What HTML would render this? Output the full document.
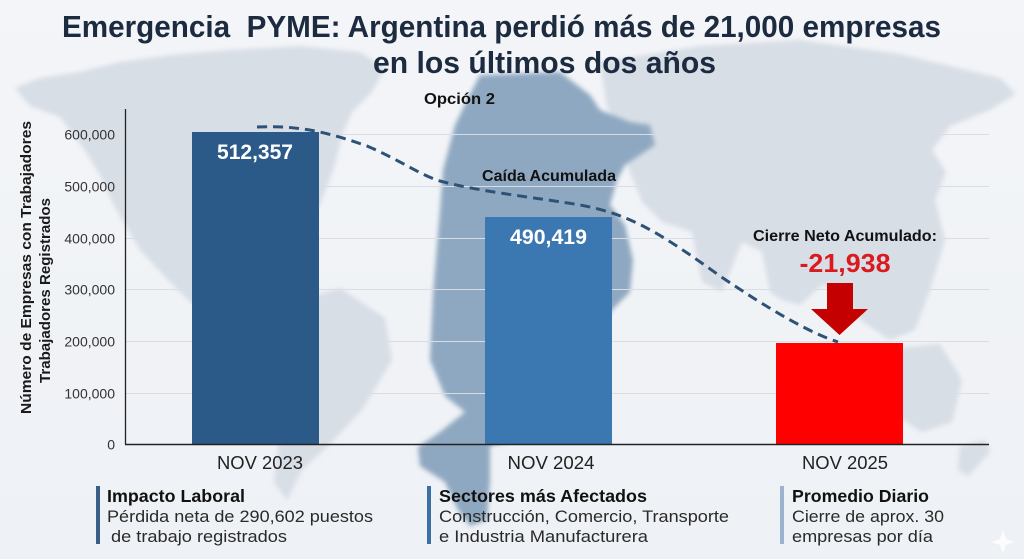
<!DOCTYPE html>
<html><head><meta charset="utf-8"><style>
html,body{margin:0;padding:0;background:#f1f4f7;}
svg{display:block;}
text{font-family:"Liberation Sans",sans-serif;}
</style></head><body>
<svg width="1024" height="559" viewBox="0 0 1024 559" xmlns="http://www.w3.org/2000/svg">
<defs>
<filter id="b" x="-10%" y="-10%" width="120%" height="120%"><feGaussianBlur stdDeviation="2.5"/></filter>
<linearGradient id="bg" x1="0" y1="0" x2="0" y2="1"><stop offset="0" stop-color="#f3f5f8"/><stop offset="1" stop-color="#eef1f5"/></linearGradient>
</defs>
<rect width="1024" height="559" fill="url(#bg)"/>
<g filter="url(#b)" fill="#d8dee6">
<path d="M15,88 L40,78 L80,72 L120,62 L170,55 L230,50 L300,46 L360,52 L385,68 L372,92 L352,112 L342,135 L335,165 L320,205 L300,240 L280,262 L245,292 L212,312 L190,302 L170,282 L140,250 L112,202 L100,175 L86,152 L60,117 L30,106 Z"/>
<path d="M300,300 L340,288 L385,318 L392,360 L362,410 L332,442 L302,470 L287,500 L274,482 L280,432 L300,382 L294,332 Z"/>
<path d="M600,62 L700,46 L800,40 L900,54 L1000,78 L1016,94 L990,110 L950,126 L932,150 L946,172 L935,200 L945,240 L930,290 L915,330 L890,340 L860,320 L842,290 L822,285 L800,305 L782,300 L770,292 L762,252 L742,242 L722,292 L702,282 L692,232 L662,222 L642,202 L622,152 L606,102 Z"/>
<path d="M880,350 L940,344 L962,380 L952,422 L922,432 L890,412 Z"/>
<path d="M960,446 L985,440 L990,452 L968,476 L958,470 Z"/>
</g>
<path filter="url(#b)" fill="#8fa8c1" d="M480,75 L560,72 L590,95 L600,110 L630,122 L650,125 L655,145 L625,165 L617,180 L610,205 L625,225 L633,260 L630,292 L612,310 L600,330 L595,420 L490,446 L490,480 L487,520 L470,526 L458,510 L445,482 L420,466 L418,447 L440,432 L465,412 L445,396 L430,360 L433,293 L440,210 L443,170 L455,125 L467,100 Z"/>

<!-- title -->
<text x="62" y="37" font-size="31" font-weight="bold" fill="#1c2b3f" textLength="879" lengthAdjust="spacingAndGlyphs" style="white-space:pre">Emergencia  PYME: Argentina perdió más de 21,000 empresas</text>
<text x="373" y="73" font-size="31" font-weight="bold" fill="#1c2b3f" textLength="343" lengthAdjust="spacingAndGlyphs">en los últimos dos años</text>
<text x="424" y="104" font-size="16" font-weight="bold" fill="#111" textLength="71" lengthAdjust="spacingAndGlyphs">Opción 2</text>

<!-- gridlines -->
<g stroke="#d9dee4" stroke-width="1">
<line x1="125" y1="134.5" x2="989" y2="134.5"/>
<line x1="125" y1="186.5" x2="989" y2="186.5"/>
<line x1="125" y1="238.5" x2="989" y2="238.5"/>
<line x1="125" y1="289.5" x2="989" y2="289.5"/>
<line x1="125" y1="341.5" x2="989" y2="341.5"/>
<line x1="125" y1="393.5" x2="989" y2="393.5"/>
</g>

<!-- y ticks -->
<g font-size="14" fill="#333" text-anchor="end">
<text x="115" y="139.5">600,000</text>
<text x="115" y="191.5">500,000</text>
<text x="115" y="243.5">400,000</text>
<text x="115" y="294.5">300,000</text>
<text x="115" y="346.5">200,000</text>
<text x="115" y="398.5">100,000</text>
<text x="115" y="449.5">0</text>
</g>

<!-- y axis title -->
<text transform="translate(31,267.5) rotate(-90)" text-anchor="middle" font-size="14.5" font-weight="bold" fill="#1a1a1a" textLength="293" lengthAdjust="spacingAndGlyphs">Número de Empresas con Trabajadores</text>
<text transform="translate(50,290.5) rotate(-90)" text-anchor="middle" font-size="14.5" font-weight="bold" fill="#1a1a1a" textLength="185" lengthAdjust="spacingAndGlyphs">Trabajadores Registrados</text>

<!-- bars -->
<rect x="192" y="132" width="127" height="312" fill="#2b5a89"/>
<rect x="485" y="217" width="127" height="227" fill="#3b77b0"/>
<rect x="776" y="343" width="127" height="101" fill="#fe0000"/>

<text x="255" y="159" text-anchor="middle" font-size="21" font-weight="bold" fill="#fff" textLength="76" lengthAdjust="spacingAndGlyphs">512,357</text>
<text x="548.5" y="244" text-anchor="middle" font-size="21" font-weight="bold" fill="#fff" textLength="77" lengthAdjust="spacingAndGlyphs">490,419</text>

<!-- axes -->
<line x1="125.5" y1="109" x2="125.5" y2="444.5" stroke="#222" stroke-width="1.3"/>
<line x1="125" y1="444.5" x2="989" y2="444.5" stroke="#222" stroke-width="1.5"/>

<!-- dashed trend -->
<path d="M257,127 C300,125 330,133 367,146 C400,160 420,175 440,181 C480,192 540,198 580,205 C630,214 660,233 720,276 C770,310 810,333 838,342" fill="none" stroke="#2e5276" stroke-width="3" stroke-dasharray="10,6"/>

<text x="549" y="181" text-anchor="middle" font-size="16" font-weight="bold" fill="#111" textLength="134" lengthAdjust="spacingAndGlyphs">Caída Acumulada</text>
<text x="845" y="241" text-anchor="middle" font-size="16" font-weight="bold" fill="#111" textLength="184" lengthAdjust="spacingAndGlyphs">Cierre Neto Acumulado:</text>
<text x="845" y="272" text-anchor="middle" font-size="26" font-weight="bold" fill="#da1a1e" textLength="91" lengthAdjust="spacingAndGlyphs">-21,938</text>

<!-- arrow -->
<path d="M827,283 L853,283 L853,309 L868,309 L839.5,335 L811,309 L827,309 Z" fill="#c40000"/>

<!-- x labels -->
<g font-size="18" fill="#222" text-anchor="middle">
<text x="260" y="469" textLength="86" lengthAdjust="spacingAndGlyphs">NOV 2023</text>
<text x="551" y="469" textLength="87" lengthAdjust="spacingAndGlyphs">NOV 2024</text>
<text x="845" y="469" textLength="86" lengthAdjust="spacingAndGlyphs">NOV 2025</text>
</g>

<!-- bottom notes -->
<rect x="96" y="486" width="4" height="58" fill="#3a5f87"/>
<rect x="427" y="486" width="4" height="58" fill="#3d6fa3"/>
<rect x="780" y="486" width="4" height="58" fill="#9bb3cc"/>

<g font-size="17.5" font-weight="bold" fill="#111">
<text x="107" y="502" textLength="138" lengthAdjust="spacingAndGlyphs">Impacto Laboral</text>
<text x="439" y="502" textLength="208" lengthAdjust="spacingAndGlyphs">Sectores más Afectados</text>
<text x="792" y="502" textLength="137" lengthAdjust="spacingAndGlyphs">Promedio Diario</text>
</g>
<g font-size="17" fill="#2a2a2a">
<text x="107" y="522" textLength="266" lengthAdjust="spacingAndGlyphs">Pérdida neta de 290,602 puestos</text>
<text x="111" y="542" textLength="176" lengthAdjust="spacingAndGlyphs">de trabajo registrados</text>
<text x="439" y="522" textLength="290" lengthAdjust="spacingAndGlyphs">Construcción, Comercio, Transporte</text>
<text x="439" y="542" textLength="209" lengthAdjust="spacingAndGlyphs">e Industria Manufacturera</text>
<text x="792" y="522" textLength="152" lengthAdjust="spacingAndGlyphs">Cierre de aprox. 30</text>
<text x="792" y="542" textLength="141" lengthAdjust="spacingAndGlyphs">empresas por día</text>
</g>
<path d="M1003,530 L1006,539 L1015,542 L1006,545 L1003,554 L1000,545 L991,542 L1000,539 Z" fill="#ffffff" opacity="0.8"/>
</svg>
</body></html>
